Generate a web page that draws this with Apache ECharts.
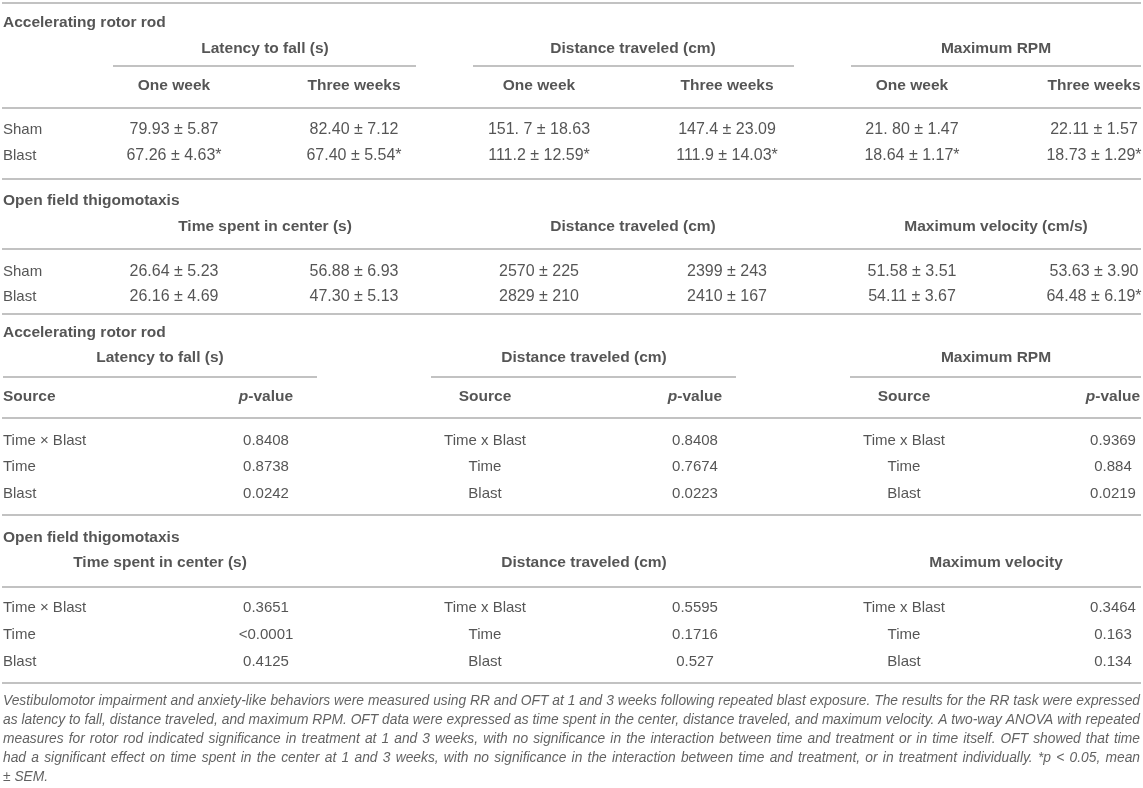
<!DOCTYPE html>
<html>
<head>
<meta charset="utf-8">
<script src="https://cdn.jsdelivr.net/npm/echarts@6/dist/echarts.min.js"></script>
<style>
  html, body { margin: 0; padding: 0; background: #fff; }
  #table-box { width: 1143px; height: 788px; }
</style>
</head>
<body>
<div id="table-box"></div>
<script>
// table data
var rrTitle = 'Accelerating rotor rod';
var oftTitle = 'Open field thigomotaxis';
var rrGroups = ['Latency to fall (s)', 'Distance traveled (cm)', 'Maximum RPM'];
var oftGroups = ['Time spent in center (s)', 'Distance traveled (cm)', 'Maximum velocity (cm/s)'];
var oftPGroups = ['Time spent in center (s)', 'Distance traveled (cm)', 'Maximum velocity'];
var timepoints = ['One week', 'Three weeks'];
var conditions = ['Sham', 'Blast'];
var rrSham = ['79.93 ± 5.87', '82.40 ± 7.12', '151. 7 ± 18.63', '147.4 ± 23.09', '21. 80 ± 1.47', '22.11 ± 1.57'];
var rrBlast = ['67.26 ± 4.63*', '67.40 ± 5.54*', '111.2 ± 12.59*', '111.9 ± 14.03*', '18.64 ± 1.17*', '18.73 ± 1.29*'];
var oftSham = ['26.64 ± 5.23', '56.88 ± 6.93', '2570 ± 225', '2399 ± 243', '51.58 ± 3.51', '53.63 ± 3.90'];
var oftBlast = ['26.16 ± 4.69', '47.30 ± 5.13', '2829 ± 210', '2410 ± 167', '54.11 ± 3.67', '64.48 ± 6.19*'];
var sourcesFirst = ['Time × Blast', 'Time', 'Blast'];
var sourcesOther = ['Time x Blast', 'Time', 'Blast'];
var rrP = [['0.8408', '0.8738', '0.0242'], ['0.8408', '0.7674', '0.0223'], ['0.9369', '0.884', '0.0219']];
var oftP = [['0.3651', '<0.0001', '0.4125'], ['0.5595', '0.1716', '0.527'], ['0.3464', '0.163', '0.134']];
var captionLines = [
  'Vestibulomotor impairment and anxiety-like behaviors were measured using RR and OFT at 1 and 3 weeks following repeated blast exposure. The results for the RR task were expressed',
  'as latency to fall, distance traveled, and maximum RPM. OFT data were expressed as time spent in the center, distance traveled, and maximum velocity. A two-way ANOVA with repeated',
  'measures for rotor rod indicated significance in treatment at 1 and 3 weeks, with no significance in the interaction between time and treatment or in time itself. OFT showed that time',
  'had a significant effect on time spent in the center at 1 and 3 weeks, with no significance in the interaction between time and treatment, or in treatment individually. *p < 0.05, mean',
  '± SEM.'
];

// layout (page pixels)
var W = 1143, H = 788;
var colX = [174, 354, 539, 727, 912, 1094];
var groupX = [265, 633, 996];
var pGroupX = [160, 584, 996];
var srcX = [3, 485, 904];
var pvalX = [266, 695, 1113];
var fullRules = [3, 108, 179, 249, 314, 418, 515, 587, 683];
var topUnder = [[113, 416], [473, 794], [851, 1141]];
var pUnder = [[3, 317], [431, 736], [850, 1141]];

var FONT = '"Liberation Sans", Arial, sans-serif';
var HEAD = 15.5, BODY = 15, VAL = 16, CAP = 13.8;
var cells = [];

function cell(x, y, text, opt) {
  opt = opt || {};
  cells.push({
    value: [x, y],
    text: text,
    label: {
      align: opt.align || 'center',
      fontWeight: opt.bold ? 'bold' : 'normal',
      fontStyle: opt.italic ? 'italic' : 'normal',
      fontSize: opt.size || BODY,
      color: opt.color || '#2b2b2b'
    }
  });
}

// upper table: accelerating rotor rod
cell(3, 23, rrTitle, {align: 'left', bold: true, size: HEAD});
rrGroups.forEach(function (g, i) { cell(groupX[i], 49, g, {bold: true, size: HEAD}); });
colX.forEach(function (x, i) { cell(x, 86, timepoints[i % 2], {bold: true, size: HEAD}); });
cell(3, 130, conditions[0], {align: 'left'});
cell(3, 156, conditions[1], {align: 'left'});
colX.forEach(function (x, i) {
  cell(x, 130, rrSham[i], {size: VAL});
  cell(x, 156, rrBlast[i], {size: VAL});
});

// upper table: open field
cell(3, 201, oftTitle, {align: 'left', bold: true, size: HEAD});
oftGroups.forEach(function (g, i) { cell(groupX[i], 227, g, {bold: true, size: HEAD}); });
cell(3, 272, conditions[0], {align: 'left'});
cell(3, 297, conditions[1], {align: 'left'});
colX.forEach(function (x, i) {
  cell(x, 272, oftSham[i], {size: VAL});
  cell(x, 297, oftBlast[i], {size: VAL});
});

// lower table: p-values
function pBlock(title, titleY, groups, pvals, headY, rowsY) {
  cell(3, titleY, title, {align: 'left', bold: true, size: HEAD});
  groups.forEach(function (g, i) { cell(pGroupX[i], titleY + 25, g, {bold: true, size: HEAD}); });
  for (var i = 0; i < 3; i++) {
    var al = i === 0 ? 'left' : 'center';
    if (headY) {
      cell(srcX[i], headY, 'Source', {align: al, bold: true, size: HEAD});
      cell(pvalX[i], headY, '{i|p}-value', {bold: true, size: HEAD});
    }
    var names = i === 0 ? sourcesFirst : sourcesOther;
    rowsY.forEach(function (y, r) {
      cell(srcX[i], y, names[r], {align: al});
      cell(pvalX[i], y, pvals[i][r]);
    });
  }
}
pBlock(rrTitle, 333, rrGroups, rrP, 397, [441, 467, 494]);
pBlock(oftTitle, 538, oftPGroups, oftP, null, [608, 635, 662]);

// caption, justified like the journal layout (last line left as is)
var ctx = document.createElement('canvas').getContext('2d');
ctx.font = 'italic ' + CAP + 'px ' + FONT;
var capLeft = 3, capRight = 1140;
captionLines.forEach(function (t, i) {
  var y = 701 + i * 19;
  var capOpt = {align: 'left', italic: true, size: CAP, color: '#3a3a3a'};
  if (i === captionLines.length - 1) {
    cell(capLeft, y, t, capOpt);
    return;
  }
  var words = t.split(' ');
  var total = 0;
  words.forEach(function (w) { total += ctx.measureText(w).width; });
  var gap = (capRight - capLeft - total) / (words.length - 1);
  var x = capLeft;
  words.forEach(function (w) {
    cell(x, y, w, capOpt);
    x += ctx.measureText(w).width + gap;
  });
});

var rules = [];
fullRules.forEach(function (y) { rules.push([{coord: [2, y]}, {coord: [1141, y]}]); });
topUnder.forEach(function (s) { rules.push([{coord: [s[0], 66]}, {coord: [s[1], 66]}]); });
pUnder.forEach(function (s) { rules.push([{coord: [s[0], 377]}, {coord: [s[1], 377]}]); });

var chart = echarts.init(document.getElementById('table-box'), null, {renderer: 'canvas'});
var option = {
  animation: false,
  backgroundColor: '#fff',
  grid: {left: 0, right: 0, top: 0, bottom: 0},
  xAxis: {type: 'value', min: 0, max: W, show: false},
  yAxis: {type: 'value', min: 0, max: H, inverse: true, show: false},
  series: [
    {
      type: 'scatter',
      symbolSize: 1,
      itemStyle: {color: 'transparent'},
      silent: true,
      label: {
        show: true,
        position: 'inside',
        verticalAlign: 'middle',
        fontFamily: FONT,
        formatter: function (p) { return p.data.text; },
        rich: {
          i: {fontStyle: 'italic', fontWeight: 'bold', fontSize: HEAD, fontFamily: FONT, color: '#2b2b2b'}
        }
      },
      data: cells
    },
    {
      type: 'scatter',
      data: [],
      markLine: {
        silent: true,
        symbol: 'none',
        label: {show: false},
        lineStyle: {color: '#c2c2c2', width: 2, type: 'solid'},
        data: rules
      }
    }
  ]
};
chart.setOption(option);
</script>
</body>
</html>
